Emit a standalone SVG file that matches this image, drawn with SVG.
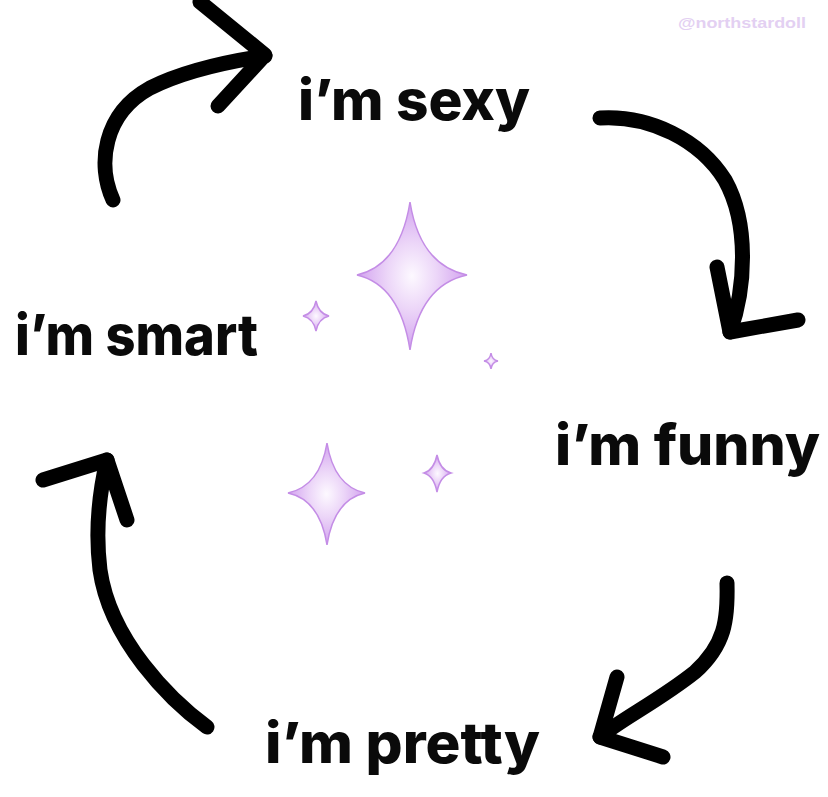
<svg xmlns="http://www.w3.org/2000/svg" width="828" height="797" viewBox="0 0 828 797">
<style>
.lbl{font-family:Inter,"Liberation Sans",Arial,sans-serif;font-weight:800;font-size:56px;fill:#0a0a0a}
.arr{fill:none;stroke:#000;stroke-width:15;stroke-linecap:round;stroke-linejoin:round}
.sp{fill:url(#sg);stroke:#c48de6;stroke-width:1.5}
.wm{font-family:"Liberation Sans",Arial,sans-serif;font-weight:700;font-size:14px;fill:#e3d0f2}
</style>
<defs>
<radialGradient id="sg" cx="0.5" cy="0.5" r="0.5">
<stop offset="0" stop-color="#fdf9ff"/>
<stop offset="0.45" stop-color="#ecd6f8"/>
<stop offset="1" stop-color="#d2a2ef"/>
</radialGradient>
</defs>
<rect width="828" height="797" fill="#ffffff"/>
<text class="wm" x="678" y="28" textLength="128" lengthAdjust="spacingAndGlyphs">@northstardoll</text>
<g id="sparkles">
<path class="sp" d="M410,202 Q420,265 467,275 Q420,285 410,350 Q400,285 357,275 Q400,265 410,202 Z"/>
<path class="sp" d="M316,301 Q318.5,313.5 329,316 Q318.5,318.5 316,331 Q313.5,318.5 303,316 Q313.5,313.5 316,301 Z"/>
<path class="sp" d="M491,353 Q492,360 498,361 Q492,362 491,369 Q490,362 484,361 Q490,360 491,353 Z"/>
<path class="sp" d="M327,443 Q334,486 365,493 Q334,500 327,545 Q320,500 288,493 Q320,486 327,443 Z"/>
<path class="sp" d="M437,455 Q440,470 451,473 Q440,476 437,492 Q434,476 424,473 Q434,470 437,455 Z"/>
</g>
<g id="connectors">
<path class="arr" d="M113,200 C97,165 103,114 150,88 C182,72 225,62 265,56"/>
<path class="arr" d="M200,2 L265,55 L218,106"/>
<path class="arr" d="M600,118 C650,115 700,140 725,180 C750,225 745,290 730,332"/>
<path class="arr" d="M717,267 L730,332 L798,320"/>
<path class="arr" d="M727,583 C728,620 725,645 695,672 C660,700 620,720 600,737"/>
<path class="arr" d="M617,677 L600,737 L663,757"/>
<path class="arr" d="M207,727 C170,700 110,640 100,570 C95,530 100,490 107,460"/>
<path class="arr" d="M43,480 L107,460 L127,520"/>
</g>
<g id="sexy"><text class="lbl" x="298" y="120" textLength="232" lengthAdjust="spacingAndGlyphs">i’m sexy</text></g>
<g id="funny"><text class="lbl" x="555" y="465" textLength="265" lengthAdjust="spacingAndGlyphs">i’m funny</text></g>
<g id="pretty"><text class="lbl" x="265" y="763" textLength="275" lengthAdjust="spacingAndGlyphs">i’m pretty</text></g>
<g id="smart"><text class="lbl" x="15" y="355" textLength="243" lengthAdjust="spacingAndGlyphs">i’m smart</text></g>
</svg>
